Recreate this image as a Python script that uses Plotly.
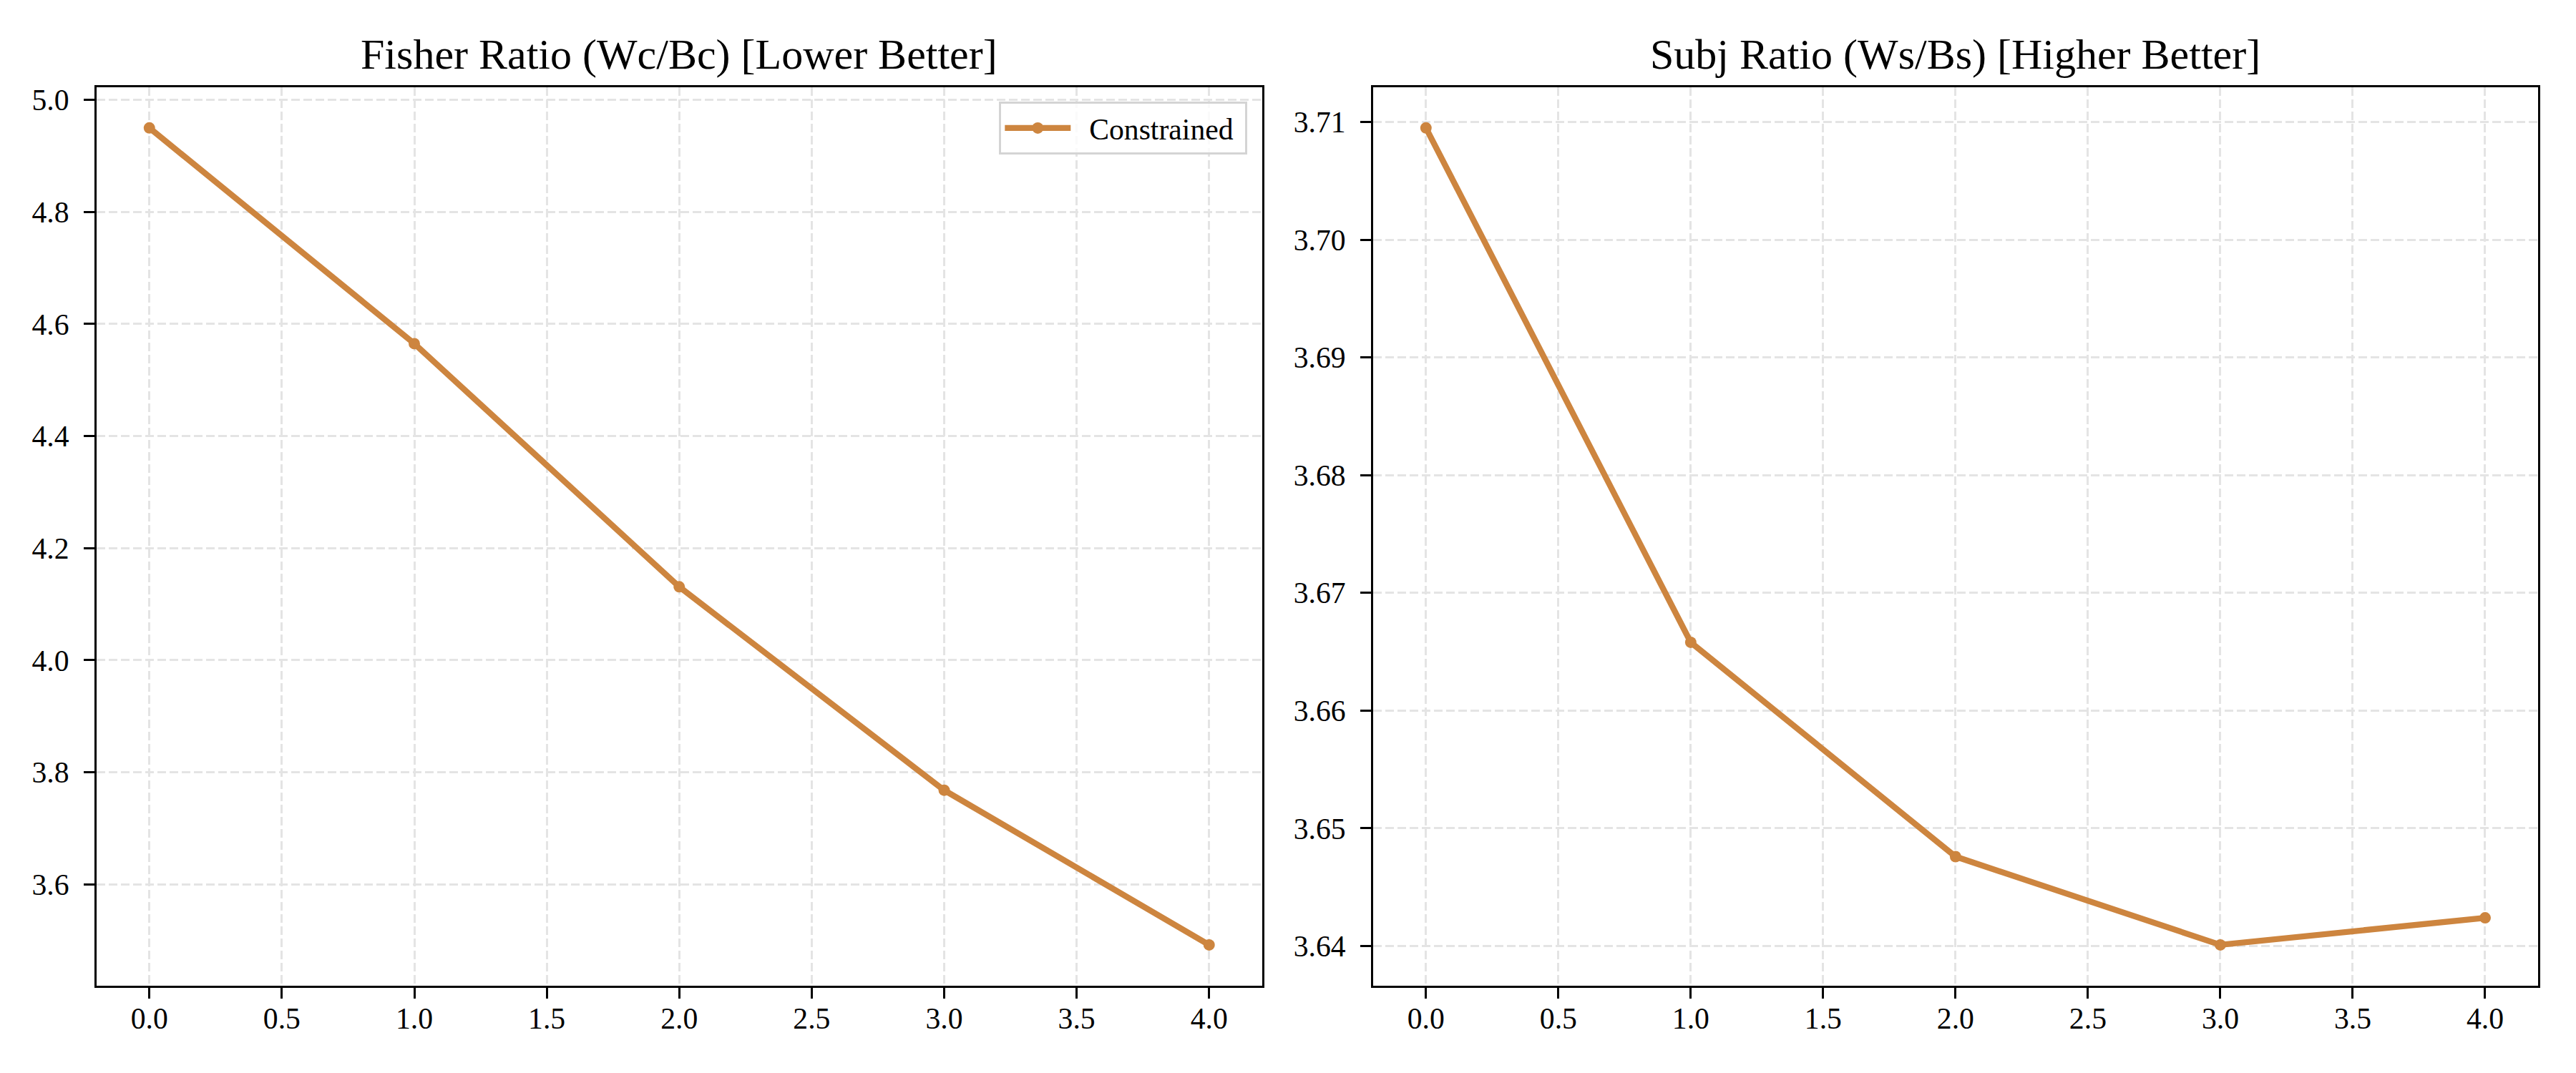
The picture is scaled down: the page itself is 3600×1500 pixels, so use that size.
import plotly.graph_objects as go

steps = [0, 1, 2, 3, 4]
fisher_ratio = [4.950, 4.565, 4.131, 3.768, 3.492]
subj_ratio = [3.7095, 3.6658, 3.6476, 3.6401, 3.6424]
series_name = "Constrained"
titles = ["Fisher Ratio (Wc/Bc) [Lower Better]", "Subj Ratio (Ws/Bs) [Higher Better]"]
x_ticks = [0.0, 0.5, 1.0, 1.5, 2.0, 2.5, 3.0, 3.5, 4.0]
left_y_ticks = [3.6, 3.8, 4.0, 4.2, 4.4, 4.6, 4.8, 5.0]
right_y_ticks = [3.64, 3.65, 3.66, 3.67, 3.68, 3.69, 3.70, 3.71]

# page body has an 8px default margin; size the figure so it fits the window
OFF = 8
W, H = 3600 - 2 * OFF, 1500 - 2 * OFF
COLOR = "#CD853F"
FONT = "Times New Roman, Liberation Serif, serif"
TICK_PX = 41.7
TITLE_PX = 60

def px_x(p):
    return (p - OFF) / W

def px_y(p):
    return 1 - (p - OFF) / H

def pad_range(vals, frac=0.05):
    lo, hi = min(vals), max(vals)
    d = hi - lo
    return [lo - frac * d, hi + frac * d]

fig = go.Figure()

fig.add_trace(go.Scatter(
    x=steps, y=fisher_ratio, mode="lines+markers",
    name="\u00a0\u00a0" + series_name + "\u00a0",
    line=dict(color=COLOR, width=8.3), marker=dict(color=COLOR, size=16),
    xaxis="x", yaxis="y", showlegend=True,
))
fig.add_trace(go.Scatter(
    x=steps, y=subj_ratio, mode="lines+markers", name=series_name,
    line=dict(color=COLOR, width=8.3), marker=dict(color=COLOR, size=16),
    xaxis="x2", yaxis="y2", showlegend=False,
))

ydom = [px_y(1378.0), px_y(121.7)]
xdom1 = [px_x(134.7), px_x(1763.8)]
xdom2 = [px_x(1918.8), px_x(3547.0)]

common_axis = dict(
    showline=True, mirror=True, linecolor="black", linewidth=3.3,
    ticks="outside", ticklen=14.6, tickwidth=3.3, tickcolor="black",
    showgrid=True, gridcolor="#e4e4e4", gridwidth=3, griddash="12px,5px",
    zeroline=False, automargin=False,
    tickfont=dict(family=FONT, size=TICK_PX, color="black"),
)

xr = pad_range(steps)

fig.update_layout(
    width=W, height=H,
    margin=dict(l=0, r=0, t=0, b=0),
    paper_bgcolor="white", plot_bgcolor="white",
    font=dict(family=FONT, size=TICK_PX, color="black"),
    xaxis=dict(domain=xdom1, anchor="y", range=xr, tickvals=x_ticks,
               tickformat=".1f", ticklabelstandoff=-8, **common_axis),
    yaxis=dict(domain=ydom, anchor="x", range=pad_range(fisher_ratio),
               tickvals=left_y_ticks, tickformat=".1f", ticklabelstandoff=12, **common_axis),
    xaxis2=dict(domain=xdom2, anchor="y2", range=xr, tickvals=x_ticks,
                tickformat=".1f", ticklabelstandoff=-8, **common_axis),
    yaxis2=dict(domain=ydom, anchor="x2", range=pad_range(subj_ratio),
                tickvals=right_y_ticks, tickformat=".2f", ticklabelstandoff=12, **common_axis),
    legend=dict(
        x=px_x(1743), y=px_y(142), xanchor="right", yanchor="top",
        xref="paper", yref="paper", itemwidth=92,
        bgcolor="rgba(255,255,255,0.8)", bordercolor="#d4d4d4", borderwidth=3.3,
        font=dict(family=FONT, size=TICK_PX, color="black"),
    ),
    showlegend=True,
)

for i, t in enumerate(titles):
    dom = xdom1 if i == 0 else xdom2
    fig.add_annotation(
        text=t, xref="paper", yref="paper",
        x=(dom[0] + dom[1]) / 2, y=px_y(76),
        xanchor="center", yanchor="middle", showarrow=False,
        font=dict(family=FONT, size=TITLE_PX, color="black"),
    )

fig.write_html("out.html")
